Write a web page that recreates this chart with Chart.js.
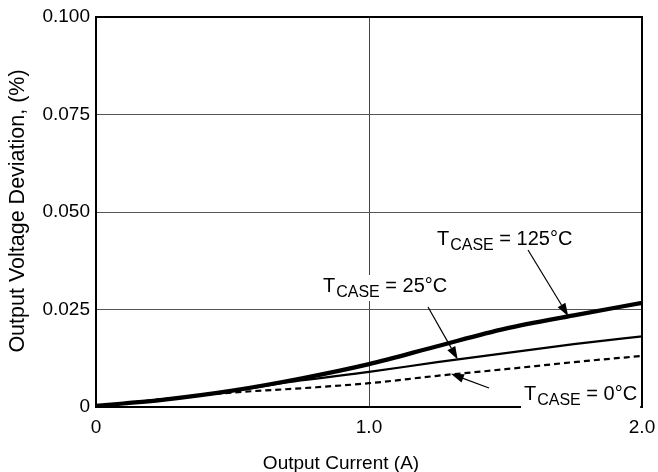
<!DOCTYPE html>
<html>
<head>
<meta charset="utf-8">
<script src="https://cdn.jsdelivr.net/npm/chart.js@4/dist/chart.umd.min.js"></script>
<style>
  html, body { margin: 0; padding: 0; background: #fff; }
  #wrap { width: 658px; height: 472px; }
</style>
</head>
<body>
<div id="wrap"><canvas id="c" width="658" height="472"></canvas></div>
<script>
// Output current (A) at which the curves are sampled
const currentA = [0, 0.1, 0.25, 0.5, 0.75, 1.0, 1.25, 1.5, 1.75, 2.0];
// Output voltage deviation (%) for each case temperature
const dev125C = [0.0003, 0.0009, 0.0019, 0.0042, 0.0073, 0.0110, 0.0156, 0.0201, 0.0235, 0.0267];
const dev25C  = [0.0003, 0.0009, 0.0019, 0.0041, 0.0068, 0.0090, 0.0115, 0.0138, 0.0161, 0.0181];
const dev0C   = [0.0003, 0.0010, 0.0021, 0.0037, 0.0048, 0.0061, 0.0080, 0.0097, 0.0115, 0.0131];

const xTickLabels = ['0', '1.0', '2.0'];
const yTickLabels = ['0', '0.025', '0.050', '0.075', '0.100'];

const seriesNames = ['125°C', '25°C', '0°C'];
// Points on each curve that the callout arrows point at (current A, deviation %)
const calloutTargets = [[1.73, 0.0233], [1.325, 0.0122], [1.30, 0.0085]];

const FONT = '"Liberation Sans", Arial, Helvetica, sans-serif';

function toPoints(ys) {
  return currentA.map((x, i) => ({ x: x, y: ys[i] }));
}

function drawArrow(ctx, x0, y0, x1, y1) {
  ctx.save();
  ctx.strokeStyle = '#000';
  ctx.fillStyle = '#000';
  ctx.lineWidth = 1.2;
  const ang = Math.atan2(y1 - y0, x1 - x0);
  const len = 13, half = 4.5;
  const bx = x1 - len * Math.cos(ang), by = y1 - len * Math.sin(ang);
  ctx.beginPath();
  ctx.moveTo(x0, y0);
  ctx.lineTo(bx, by);
  ctx.stroke();
  ctx.beginPath();
  ctx.moveTo(x1, y1);
  ctx.lineTo(bx + half * Math.sin(ang), by - half * Math.cos(ang));
  ctx.lineTo(bx - half * Math.sin(ang), by + half * Math.cos(ang));
  ctx.closePath();
  ctx.fill();
  ctx.restore();
}

// "T" with subscript "CASE", then " = <temp>"
function drawCaseLabel(ctx, x, baseline, temp) {
  ctx.save();
  ctx.textBaseline = 'alphabetic';
  ctx.textAlign = 'left';
  ctx.font = '20px ' + FONT;
  const wT = ctx.measureText('T').width;
  ctx.font = '16px ' + FONT;
  const wSub = ctx.measureText('CASE').width;
  ctx.font = '20px ' + FONT;
  const rest = ' = ' + temp;
  const wRest = ctx.measureText(rest).width;
  const total = wT + 1 + wSub + wRest;
  ctx.fillStyle = '#fff';
  ctx.fillRect(x - 3, baseline - 17, total + 6, 26);
  ctx.fillStyle = '#000';
  ctx.fillText('T', x, baseline);
  ctx.font = '16px ' + FONT;
  ctx.fillText('CASE', x + wT + 1, baseline + 5);
  ctx.font = '20px ' + FONT;
  ctx.fillText(rest, x + wT + 1 + wSub, baseline);
  ctx.restore();
}

const framePlugin = {
  id: 'frame',
  beforeDatasetsDraw(chart) {
    const { ctx, chartArea: a } = chart;
    ctx.save();
    ctx.strokeStyle = '#000';
    ctx.lineWidth = 2;
    ctx.strokeRect(a.left, a.top, a.right - a.left, a.bottom - a.top);
    ctx.restore();
  }
};

const calloutPlugin = {
  id: 'callouts',
  afterDatasetsDraw(chart) {
    const ctx = chart.ctx;
    const xs = chart.scales.x, ys = chart.scales.y;
    const tip = i => [xs.getPixelForValue(calloutTargets[i][0]), ys.getPixelForValue(calloutTargets[i][1])];

    drawCaseLabel(ctx, 437, 245, seriesNames[0]);
    drawCaseLabel(ctx, 323, 292, seriesNames[1]);
    drawCaseLabel(ctx, 524, 400, seriesNames[2]);

    let t = tip(0); drawArrow(ctx, 528, 250, t[0], t[1]);
    t = tip(1); drawArrow(ctx, 428, 307, t[0], t[1]);
    t = tip(2); drawArrow(ctx, 489, 388, t[0], t[1]);

    // Axis titles
    ctx.save();
    ctx.fillStyle = '#000';
    ctx.textAlign = 'center';
    ctx.textBaseline = 'alphabetic';
    ctx.font = '19px ' + FONT;
    ctx.fillText('Output Current (A)', 341, 469);
    ctx.font = '21.5px ' + FONT;
    ctx.translate(24, 211);
    ctx.rotate(-Math.PI / 2);
    ctx.fillText('Output Voltage Deviation, (%)', 0, 0);
    ctx.restore();
  }
};

new Chart(document.getElementById('c'), {
  type: 'line',
  data: {
    datasets: [
      { label: seriesNames[0], data: toPoints(dev125C), borderColor: '#000', borderWidth: 4.2, pointRadius: 0, cubicInterpolationMode: 'monotone', clip: false },
      { label: seriesNames[1], data: toPoints(dev25C), borderColor: '#000', borderWidth: 2.2, pointRadius: 0, cubicInterpolationMode: 'monotone', clip: false },
      { label: seriesNames[2], data: toPoints(dev0C), borderColor: '#000', borderWidth: 2.2, borderDash: [6, 4], pointRadius: 0, cubicInterpolationMode: 'monotone', clip: false }
    ]
  },
  options: {
    responsive: false,
    animation: false,
    devicePixelRatio: 1,
    layout: { padding: { top: 17, right: 16, left: 0, bottom: 0 } },
    plugins: { legend: { display: false }, tooltip: { enabled: false }, title: { display: false } },
    scales: {
      x: {
        type: 'linear', min: 0, max: 2,
        ticks: {
          stepSize: 1, autoSkip: false, maxRotation: 0, padding: 9, color: '#000',
          font: { family: FONT, size: 19 },
          callback: (v, i) => xTickLabels[i] ?? ''
        },
        grid: {
          drawTicks: false, lineWidth: 1,
          color: c => (c.tick && c.tick.value === 1) ? '#444' : 'rgba(0,0,0,0)'
        },
        border: { display: false },
        afterFit: s => { s.height = 65; s.paddingLeft = 0; s.paddingRight = 0; }
      },
      y: {
        min: 0, max: 0.1,
        ticks: {
          stepSize: 0.025, autoSkip: false, padding: 6, color: '#000',
          font: { family: FONT, size: 19 },
          callback: (v, i) => yTickLabels[i] ?? ''
        },
        grid: {
          drawTicks: false, lineWidth: 1,
          color: c => (c.tick && c.tick.value > 0.0001 && c.tick.value < 0.0999) ? '#555' : 'rgba(0,0,0,0)'
        },
        border: { display: false },
        afterFit: s => { s.width = 96; s.paddingTop = 0; s.paddingBottom = 0; }
      }
    }
  },
  plugins: [framePlugin, calloutPlugin]
});
</script>
</body>
</html>
